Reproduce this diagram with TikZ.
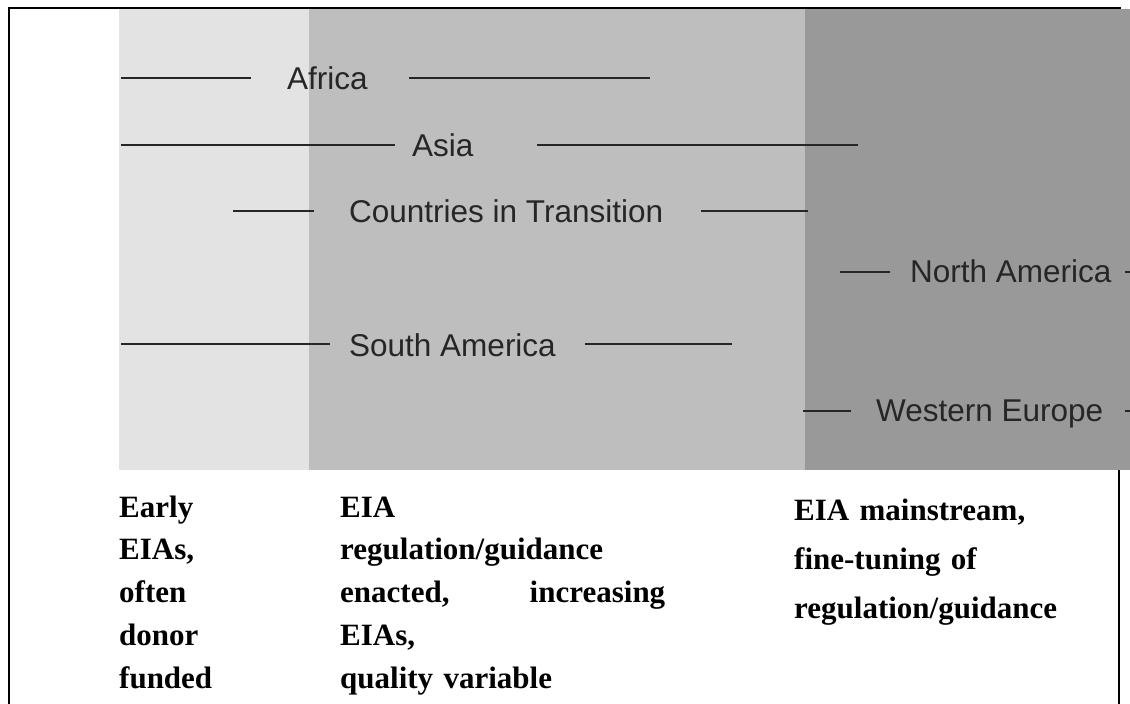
\documentclass[tikz,border=0pt]{standalone}
\usepackage{fontspec}
\setmainfont{Liberation Serif}
\setsansfont{Liberation Sans}
\definecolor{bandlight}{HTML}{E3E3E3}
\definecolor{bandmid}{HTML}{BEBEBE}
\definecolor{banddark}{HTML}{999999}

\begin{document}
\begin{tikzpicture}[x=1pt, y=-1pt,
          region/.style={font=\sffamily\fontsize{31.5}{36}\selectfont, text=black!85, inner sep=0pt, anchor=base west},
          rule/.style={draw=black!85, line width=1.6pt},
          stage/.style={font=\bfseries\fontsize{31}{#1}\selectfont, inner sep=0pt, anchor=base west, align=left},
          stage/.default=42.75,
          frame/.style={line width=2.5pt}
        ]
          \useasboundingbox (0,0) rectangle (1130,704);

          % Shaded bands
          \fill[bandlight] (119,9) rectangle (309,470);
          \fill[bandmid] (309,9) rectangle (805,470);
          \fill[banddark] (805,9) rectangle (1130,470);

          % Frame
          \draw[frame] (9,704) -- (9,8) -- (1121,8);
          \draw[frame] (1119,470) -- (1119,704);

          % Africa
          \node[region] (africa) at (287,89) {Africa};
          \coordinate (africaA) at (121,78);
          \coordinate (africaB) at (251,78);
          \coordinate (africaC) at (409,78);
          \coordinate (africaD) at (650,78);
          \draw[rule] (africaA) -- (africaB);
          \draw[rule] (africaC) -- (africaD);

          % Asia
          \node[region] (asia) at (412,156) {Asia};
          \coordinate (asiaA) at (121,145);
          \coordinate (asiaB) at (395,145);
          \coordinate (asiaC) at (537,145);
          \coordinate (asiaD) at (858,145);
          \draw[rule] (asiaA) -- (asiaB);
          \draw[rule] (asiaC) -- (asiaD);

          % Countries in Transition
          \node[region] (transition) at (349,222) {Countries in Transition};
          \coordinate (transA) at (233,211);
          \coordinate (transB) at (314,211);
          \coordinate (transC) at (701,211);
          \coordinate (transD) at (808,211);
          \draw[rule] (transA) -- (transB);
          \draw[rule] (transC) -- (transD);

          % North America
          \node[region] (northam) at (910,282) {North America};
          \coordinate (northA) at (840,272);
          \coordinate (northB) at (890,272);
          \coordinate (northC) at (1125,272);
          \coordinate (northD) at (1130,272);
          \draw[rule] (northA) -- (northB);
          \draw[rule] (northC) -- (northD);

          % South America
          \node[region] (southam) at (349,356) {South America};
          \coordinate (southA) at (121,344);
          \coordinate (southB) at (330,344);
          \coordinate (southC) at (585,344);
          \coordinate (southD) at (732,344);
          \draw[rule] (southA) -- (southB);
          \draw[rule] (southC) -- (southD);

          % Western Europe
          \node[region] (westeu) at (876,421) {Western Europe};
          \coordinate (westA) at (803,411);
          \coordinate (westB) at (851,411);
          \coordinate (westC) at (1125,411);
          \coordinate (westD) at (1130,411);
          \draw[rule] (westA) -- (westB);
          \draw[rule] (westC) -- (westD);

          % Stage descriptions
          \node[stage, text width=120] (early) at (119,517) {Early\\EIAs,\\often\\donor\\funded};
          \node[stage, text width=325] (enacted) at (340,517) {EIA\\regulation/guidance\\enacted,\hfill increasing\\EIAs,\\quality variable};
          \node[stage=49, text width=310] (mainstream) at (794,520) {EIA mainstream,\\fine-tuning of\\regulation/guidance};

        \end{tikzpicture}
\end{document}
